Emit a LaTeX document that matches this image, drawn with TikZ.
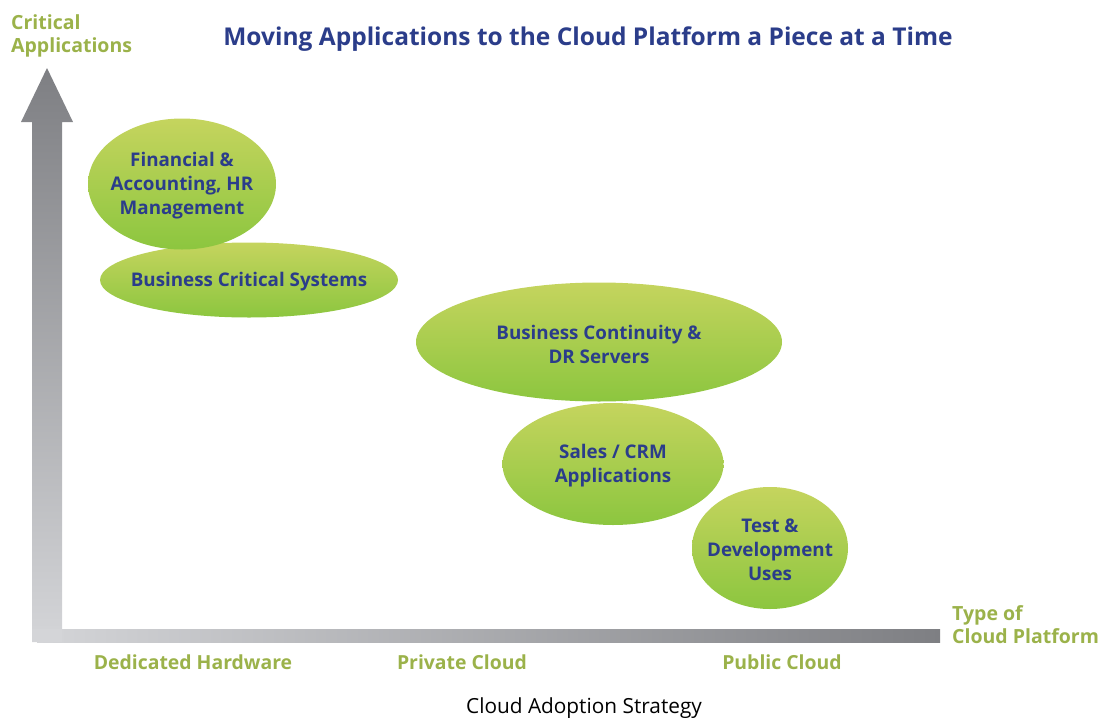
\documentclass[tikz,border=0pt]{standalone}
\usepackage{fontspec}
\setmainfont{Open Sans}
\usetikzlibrary{shapes.geometric}
\definecolor{navy}{HTML}{2B3D8A}
\definecolor{olive}{HTML}{9BB24A}
\definecolor{gtop}{HTML}{C5D45E}
\definecolor{gmid}{HTML}{B9D053}
\definecolor{gbot}{HTML}{8CC63F}
\definecolor{darkgr}{HTML}{7E7F83}
\definecolor{lightgr}{HTML}{D4D5D8}
\tikzset{
  bubble/.style={ellipse, inner sep=0pt, outer sep=0pt, top color=gtop, middle color=gmid, bottom color=gbot, draw=none},
  bubbletext/.style={align=center, text=navy, inner sep=0pt, yshift=-2pt, font=\fontsize{18.8}{24}\selectfont\bfseries},
  axislabel/.style={text=olive, inner sep=0pt, font=\fontsize{19.5}{23.5}\selectfont\bfseries, align=left},
  catlabel/.style={text=olive, font=\fontsize{19.4}{23}\selectfont\bfseries},
}
\begin{document}
\begin{tikzpicture}[x=1pt,y=-1pt]
\useasboundingbox (0,0) rectangle (1101,718);
% axes
\shade[top color=darkgr, bottom color=lightgr] (21,122) -- (47,68) -- (73,122) -- (62,122) -- (62,642) -- (32,642) -- (32,122) -- cycle;
\shade[left color=lightgr, right color=darkgr] (37,629) rectangle (940,642);
\fill[lightgr] (32,629) rectangle (62,642);
% title
\node[text=navy, font=\fontsize{24.5}{28}\selectfont\bfseries] (title) at (588,39) {Moving Applications to the Cloud Platform a Piece at a Time};
\node[axislabel, anchor=north west] (ylab) at (11,14) {Critical\\Applications};
\node[axislabel, anchor=north west] (xlab) at (952,605) {Type of\\Cloud Platform};
\node[catlabel] (dh) at (193,662) {Dedicated Hardware};
\node[catlabel] (pc) at (462,662) {Private Cloud};
\node[catlabel] (pub) at (782,662) {Public Cloud};
\node[font=\fontsize{20.8}{24}\selectfont] (cap) at (584,708) {Cloud Adoption Strategy};
% bubbles
\node[bubble, minimum width=298pt, minimum height=75pt] (bcs) at (249,280) {};
\node[bubbletext] (bcst) at (bcs.center) {Business Critical Systems};
\node[bubble, minimum width=188pt, minimum height=131pt] (fin) at (182,184) {};
\node[bubbletext] (fint) at (fin.center) {Financial \&\\Accounting, HR\\Management};
\node[bubble, minimum width=366pt, minimum height=119pt] (bc) at (599,342) {};
\node[bubbletext] (bct) at (bc.center) {Business Continuity \&\\DR Servers};
\node[bubble, minimum width=221pt, minimum height=122pt] (crm) at (613,464) {};
\node[bubbletext] (crmt) at (crm.center) {Sales / CRM\\Applications};
\node[bubble, minimum width=156pt, minimum height=122pt] (test) at (770,548) {};
\node[bubbletext] (testt) at (test.center) {Test \&\\Development\\Uses};
\end{tikzpicture}
\end{document}
